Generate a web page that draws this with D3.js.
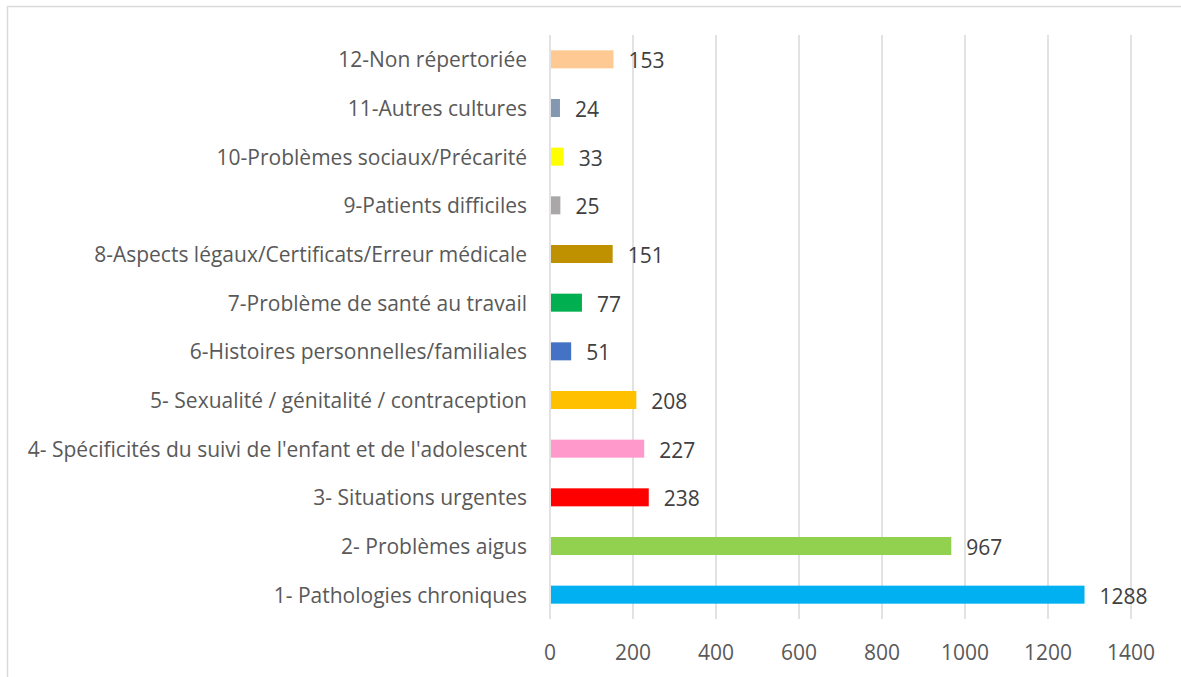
<!DOCTYPE html>
<html>
<head>
<meta charset="utf-8">
<script src="https://cdn.jsdelivr.net/npm/d3@7"></script>
<style>
  body { margin: 0; background: #fff; }
  svg text { font-family: "Open Sans", "Noto Sans", sans-serif; fill: #595959; }
</style>
</head>
<body>
<div id="chart"></div>
<script>
// categories from top to bottom
const categories = [
  "12-Non répertoriée",
  "11-Autres cultures",
  "10-Problèmes sociaux/Précarité",
  "9-Patients difficiles",
  "8-Aspects légaux/Certificats/Erreur médicale",
  "7-Problème de santé au travail",
  "6-Histoires personnelles/familiales",
  "5- Sexualité / génitalité / contraception",
  "4- Spécificités du suivi de l'enfant et de l'adolescent",
  "3- Situations urgentes",
  "2- Problèmes aigus",
  "1- Pathologies chroniques"
];
const values = [153, 24, 33, 25, 151, 77, 51, 208, 227, 238, 967, 1288];
const colors = ["#ffc994", "#8497b0", "#ffff00", "#a9a7a7", "#bf9000", "#00b050",
                "#4472c4", "#ffc000", "#ff99cc", "#ff0000", "#92d050", "#00b0f0"];
const xTicks = [0, 200, 400, 600, 800, 1000, 1200, 1400];

const W = 1181, H = 677;
const plot = { left: 550, right: 1131, top: 35, bottom: 619 };

const svg = d3.select("#chart").append("svg")
  .attr("width", W).attr("height", H);

// outer frame (only top and left edges visible)
svg.append("rect")
  .attr("x", 7.5).attr("y", 6.5)
  .attr("width", 1300).attr("height", 800)
  .attr("fill", "none").attr("stroke", "#d9d9d9").attr("stroke-width", 1.5);

const x = d3.scaleLinear().domain([0, 1400]).range([plot.left, plot.right]);
const y = d3.scaleBand().domain(categories).range([plot.top, plot.bottom]).paddingInner(0.63).paddingOuter(0.315);

// vertical gridlines
svg.append("g").selectAll("line")
  .data(xTicks)
  .join("line")
  .attr("x1", d => x(d)).attr("x2", d => x(d))
  .attr("y1", plot.top).attr("y2", plot.bottom)
  .attr("stroke", "#d9d9d9").attr("stroke-width", 1.5);

// x tick labels
svg.append("g").selectAll("text")
  .data(xTicks)
  .join("text")
  .attr("x", d => x(d)).attr("y", 652)
  .attr("text-anchor", "middle").attr("dominant-baseline", "central")
  .attr("font-size", "21px")
  .text(d => d);

// bars
svg.append("g").selectAll("rect")
  .data(categories)
  .join("rect")
  .attr("x", x(0) + 1)
  .attr("y", d => y(d))
  .attr("width", (d, i) => x(values[i]) - x(0) - 1)
  .attr("height", y.bandwidth())
  .attr("fill", (d, i) => colors[i]);

// value labels
svg.append("g").selectAll("text")
  .data(categories)
  .join("text")
  .attr("x", (d, i) => x(values[i]) + 15)
  .attr("y", d => y(d) + y.bandwidth() / 2 + 1)
  .attr("dominant-baseline", "central")
  .attr("font-size", "21px")
  .style("fill", "#404040")
  .text((d, i) => values[i]);

// category labels
svg.append("g").selectAll("text")
  .data(categories)
  .join("text")
  .attr("x", plot.left - 23)
  .attr("y", d => y(d) + y.bandwidth() / 2)
  .attr("text-anchor", "end").attr("dominant-baseline", "central")
  .attr("font-size", "21px")
  .text(d => d);
</script>
</body>
</html>
